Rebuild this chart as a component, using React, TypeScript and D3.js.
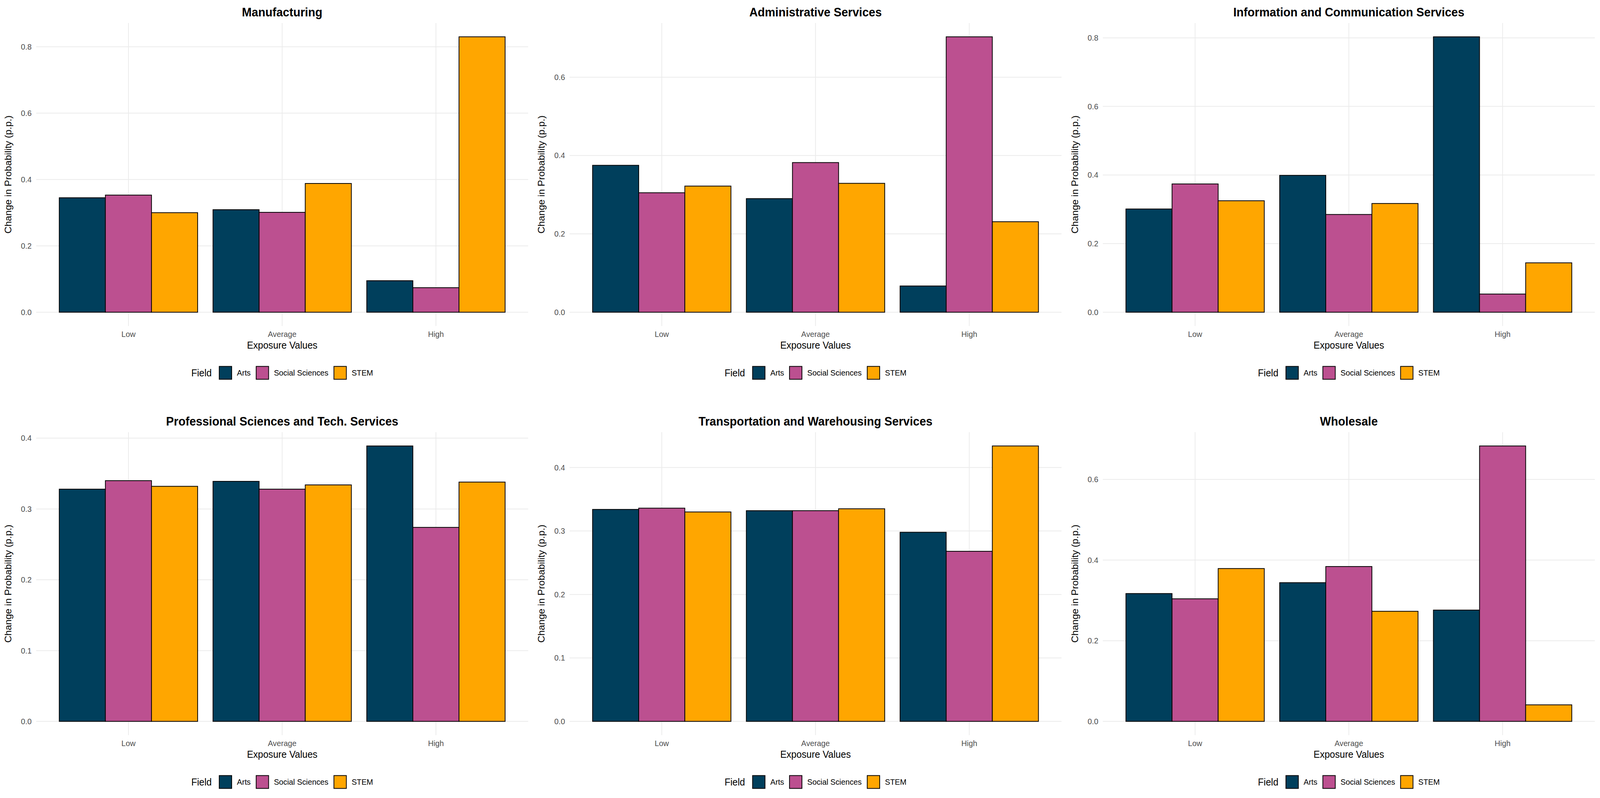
import React, { useEffect } from 'react';
import * as d3 from 'd3';

// ---- data ----
const sectors = [
  'Manufacturing',
  'Administrative Services',
  'Information and Communication Services',
  'Professional Sciences and Tech. Services',
  'Transportation and Warehousing Services',
  'Wholesale',
];
const exposureLevels = ['Low', 'Average', 'High'];
const fields = ['Arts', 'Social Sciences', 'STEM'];
const fieldColors = ['#003f5c', '#bc5090', '#ffa600'];

// rows = exposure level (Low, Average, High), cols = field (Arts, Social Sciences, STEM)
const manufacturing = [[0.345, 0.353, 0.3], [0.309, 0.301, 0.388], [0.095, 0.074, 0.83]];
const administrative = [[0.375, 0.305, 0.322], [0.29, 0.382, 0.329], [0.067, 0.703, 0.231]];
const infoComm = [[0.301, 0.374, 0.325], [0.399, 0.285, 0.317], [0.803, 0.053, 0.144]];
const professional = [[0.328, 0.34, 0.332], [0.339, 0.328, 0.334], [0.389, 0.274, 0.338]];
const transportation = [[0.334, 0.336, 0.33], [0.332, 0.332, 0.335], [0.298, 0.268, 0.434]];
const wholesale = [[0.317, 0.304, 0.379], [0.344, 0.384, 0.273], [0.276, 0.683, 0.041]];
const sectorValues = [manufacturing, administrative, infoComm, professional, transportation, wholesale];

// layout is drawn in reference pixels and the svg is stretched to the viewport
const W = 4244;
const H = 2044;
const cellW = W / 3;
const rowTops = [0, 1048];
const FONT = '"Liberation Sans", Arial, Helvetica, sans-serif';

// panel box inside each cell
const plot = { left: 96, right: 1401, top: 59, bottom: 835 };

const measure = (() => {
  let ctx: CanvasRenderingContext2D | null = null;
  return (text: string, font: string) => {
    if (!ctx) ctx = document.createElement('canvas').getContext('2d');
    if (!ctx) return text.length * 10;
    ctx.font = font;
    return ctx.measureText(text).width;
  };
})();

const Legend: React.FC<{ cx: number; cy: number }> = ({ cx, cy }) => {
  const titleSize = 25;
  const labelSize = 20.5;
  const key = 33;
  const titleW = measure('Field', `${titleSize}px ${FONT}`);
  const labelW = fields.map(f => measure(f, `${labelSize}px ${FONT}`));
  const total = titleW + 20 + labelW.reduce((s, w) => s + key + 14 + w, 0) + 14.5 * (fields.length - 1);
  let x = cx - total / 2;
  const items: React.ReactNode[] = [];
  items.push(
    <text key="t" x={x} y={cy} dy="0.35em" fontSize={titleSize} fill="#000">Field</text>
  );
  x += titleW + 20;
  fields.forEach((f, i) => {
    items.push(
      <rect key={`k${i}`} x={x} y={cy - key / 2} width={key} height={key}
        fill={fieldColors[i]} stroke="#000" strokeWidth={2} />
    );
    x += key + 14;
    items.push(
      <text key={`l${i}`} x={x} y={cy} dy="0.35em" fontSize={labelSize} fill="#000">{f}</text>
    );
    x += labelW[i] + 14.5;
  });
  return <g>{items}</g>;
};

const Panel: React.FC<{ idx: number }> = ({ idx }) => {
  const col = idx % 3;
  const row = Math.floor(idx / 3);
  const ox = col * cellW;
  const oy = rowTops[row];
  const values = sectorValues[idx];
  const maxV = d3.max(values.flat()) ?? 1;

  // ggplot-style discrete axis: 0.6 units of padding each side, bars 0.9 wide
  const x = d3.scaleBand<string>()
    .domain(exposureLevels)
    .range([plot.left, plot.right])
    .paddingInner(0.1)
    .paddingOuter(0.15);
  const xField = d3.scaleBand<string>().domain(fields).range([0, x.bandwidth()]);
  const y = d3.scaleLinear()
    .domain([-0.05 * maxV, 1.05 * maxV])
    .range([plot.bottom, plot.top]);
  const ticks = y.ticks(5).filter(t => t >= 0);
  const fmt = d3.format('.1f');
  const cxPanel = (plot.left + plot.right) / 2;

  return (
    <g transform={`translate(${ox},${oy})`} fontFamily={FONT}>
      {/* grid */}
      {ticks.map(t => (
        <line key={`h${t}`} x1={plot.left} x2={plot.right} y1={y(t)} y2={y(t)} stroke="#ebebeb" strokeWidth={2} />
      ))}
      {exposureLevels.map(e => {
        const c = (x(e) ?? 0) + x.bandwidth() / 2;
        return <line key={`v${e}`} x1={c} x2={c} y1={plot.top} y2={plot.bottom} stroke="#ebebeb" strokeWidth={2} />;
      })}
      {/* bars */}
      {exposureLevels.map((e, i) =>
        fields.map((f, j) => (
          <rect key={`${e}-${f}`}
            x={(x(e) ?? 0) + (xField(f) ?? 0)}
            y={y(values[i][j])}
            width={xField.bandwidth()}
            height={y(0) - y(values[i][j])}
            fill={fieldColors[j]} stroke="#000" strokeWidth={2} />
        ))
      )}
      {/* y ticks */}
      {ticks.map(t => (
        <text key={`yt${t}`} x={plot.left - 12} y={y(t)} dy="0.35em" textAnchor="end" fontSize={20.5} fill="#4d4d4d">{fmt(t)}</text>
      ))}
      {/* x ticks */}
      {exposureLevels.map(e => (
        <text key={`xt${e}`} x={(x(e) ?? 0) + x.bandwidth() / 2} y={863} textAnchor="middle" fontSize={20.5} fill="#4d4d4d">{e}</text>
      ))}
      {/* axis titles */}
      <text x={cxPanel} y={893} textAnchor="middle" fontSize={25} fill="#000">Exposure Values</text>
      <text transform={`translate(30,${(plot.top + plot.bottom) / 2}) rotate(-90)`} textAnchor="middle" fontSize={25} fill="#000">
        Change in Probability (p.p.)
      </text>
      {/* title */}
      <text x={cxPanel} y={42} textAnchor="middle" fontSize={31} fontWeight="bold" fill="#000">{sectors[idx]}</text>
      <Legend cx={cxPanel} cy={955} />
    </g>
  );
};

export default function App() {
  useEffect(() => {
    document.body.style.margin = '0';
    document.body.style.overflow = 'hidden';
  }, []);
  return (
    <svg viewBox={`0 0 ${W} ${H}`} preserveAspectRatio="none"
      style={{ display: 'block', width: '100vw', height: '100vh', background: '#fff' }}>
      <rect x={0} y={0} width={W} height={H} fill="#fff" />
      {sectors.map((_, i) => <Panel key={i} idx={i} />)}
    </svg>
  );
}
